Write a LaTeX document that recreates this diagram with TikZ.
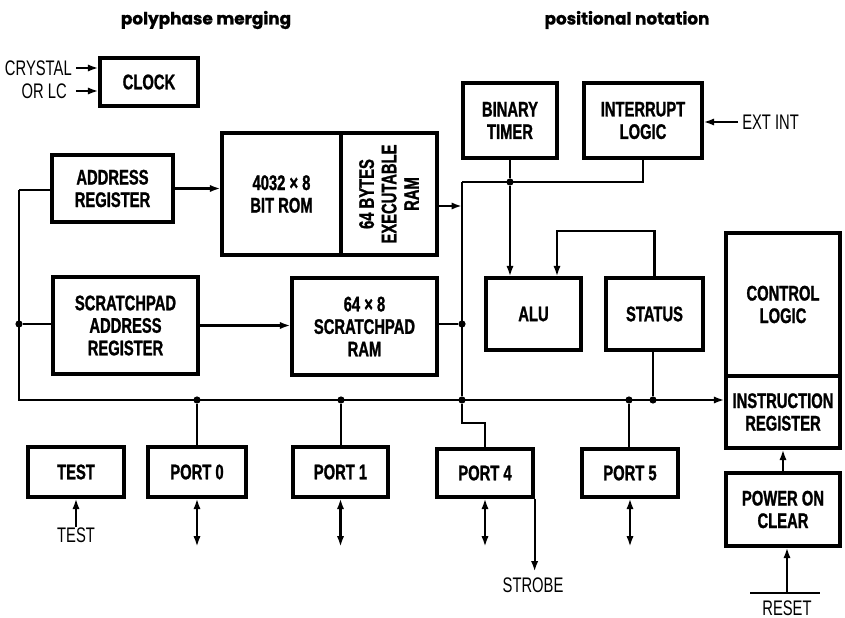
\documentclass[tikz,border=0pt]{standalone}
\usepackage{fontspec}
\setmainfont{Liberation Sans}[FakeStretch=0.7, BoldFeatures={FakeBold=1.2}]
\newfontfamily\headfont{Poppins}[BoldFeatures={FakeBold=1}]
\usetikzlibrary{arrows.meta}

\begin{document}
\begin{tikzpicture}[x=0.25mm, y=-0.25mm,
  blk/.style={draw, line width=2.3pt, inner sep=0pt, align=center,
    font=\bfseries\fontsize{15}{16}\selectfont},
  sz/.style 2 args={minimum width=#1*0.25mm, minimum height=#2*0.25mm},
  wire/.style={line width=1.5pt},
  arr/.style={wire, -{Latex[length=2.6mm,width=1.8mm]}},
  darr/.style={wire, {Latex[length=2.6mm,width=1.8mm]}-{Latex[length=2.6mm,width=1.8mm]}},
  lbl/.style={inner sep=0pt, font=\fontsize{15}{16}\selectfont},
  jdot/.style={circle, fill, inner sep=0pt, minimum size=1.8mm}]
\useasboundingbox (0,0) rectangle (845,618);
% Headings
\node[font=\headfont\bfseries\fontsize{12}{14}\selectfont] (h1) at (206,20) {polyphase merging};
\node[font=\headfont\bfseries\fontsize{12}{14}\selectfont] (h2) at (627,20) {positional notation};
% Clock and its inputs
\node[blk, sz={98}{48}] (clock) at (149,82) {CLOCK};
\node[lbl, anchor=east] (xtal) at (72,68) {CRYSTAL};
\node[lbl, anchor=east] (orlc) at (67,91) {OR LC};
\draw[arr] ([xshift=1mm]xtal.east) -- (xtal -| clock.west);
\draw[arr] ([xshift=2.2mm]orlc.east) -- (orlc -| clock.west);
% Program memory
\node[blk, sz={121}{67}] (addr) at (112.5,188.5) {ADDRESS\\REGISTER};
\node[blk, sz={119}{122}] (rom) at (281.5,194) {4032 × 8\\BIT ROM};
\node[blk, sz={96}{122}] (xram) at (389,194) {};
\node[blk, draw=none, rotate=90] (xramtxt) at (xram) {64 BYTES\\EXECUTABLE\\RAM};
\draw[arr] (addr.east) -- (addr.east -| rom.west);
% Timer and interrupts
\node[blk, sz={94}{75}] (timer) at (510,120.5) {BINARY\\TIMER};
\node[blk, sz={118}{75}] (intr) at (643,120.5) {INTERRUPT\\LOGIC};
\node[lbl, anchor=west] (extint) at (742,122) {EXT INT};
\draw[arr] ([xshift=-1mm]extint.west) -- (extint -| intr.east);
% Scratchpad
\node[blk, sz={145}{97}] (spar) at (125.5,325.5) {SCRATCHPAD\\ADDRESS\\REGISTER};
\node[blk, sz={145}{97}] (spram) at (364.5,326.5) {64 × 8\\SCRATCHPAD\\RAM};
\draw[arr] (spar.east) -- (spar.east -| spram.west);
% ALU and status
\node[blk, sz={95}{72}] (alu) at (533.5,314) {ALU};
\node[blk, sz={97}{72}] (status) at (654.5,314) {STATUS};
% Control side
\node[blk, sz={114}{143}] (ctrl) at (783,304.5) {CONTROL\\LOGIC};
\node[blk, sz={114}{72}] (ir) at (783,412) {INSTRUCTION\\REGISTER};
\node[blk, sz={114}{73}] (poc) at (783,509.5) {POWER ON\\CLEAR};
\draw[arr] (poc) -- (ir);
\coordinate (rl) at (750,593);
\coordinate (rr) at (820,593);
\coordinate (rst) at (787,593);
\draw[wire] (rl) -- (rr);
\draw[arr] (rst) -- (rst |- poc.south);
\node[lbl] (reset) at (787,608) {RESET};
% I/O ports
\node[blk, sz={96}{50}] (test) at (76,472) {TEST};
\node[blk, sz={98}{50}] (port0) at (197,472) {PORT 0};
\node[blk, sz={95}{50}] (port1) at (340.5,472) {PORT 1};
\node[blk, sz={96}{48}] (port4) at (485,473) {PORT 4};
\node[blk, sz={96}{48}] (port5) at (630,473) {PORT 5};
\node[lbl] (testin) at (76,535) {TEST};
\draw[arr] (testin.north) -- (test.south);
\foreach \p in {port0,port1,port4,port5}
  \draw[darr] (\p.south) -- ++(0,48);
\draw[arr] (port4.south east) -- ++(0,73) coordinate (strb);
\node[lbl] (strobe) at (533,585) {STROBE};
% Main bus with junctions
\coordinate (lt) at (19,190);
\coordinate (lb) at (19,400);
\draw[wire] (lt) -- (lt -| addr.west);
\draw[arr] (lt) -- (lb) -- (lb -| ir.west);
\node[jdot] (d1) at (19,324) {};
\draw[wire] (d1) -- (d1 -| spar.west);
\foreach \n/\x in {b0/197, b1/341, b4/462, b5/629, bs/653}
  \node[jdot] (\n) at (\x,400) {};
\draw[wire] (b0) -- (b0 |- port0.north);
\draw[wire] (b1) -- (b1 |- port1.north);
\draw[wire] (b5) -- (b5 |- port5.north);
\draw[wire] (bs |- status.south) -- (bs);
% Internal data bus
\coordinate (top) at (462,182);
\draw[wire] (top) -- (b4) -- ++(0,23) -| (port4);
\draw[wire] (top) -| (intr);
\node[jdot] (tdot) at (510,182) {};
\draw[wire] (timer) -- (tdot);
\draw[arr] (tdot) -- (tdot |- alu.north);
\coordinate (rin) at (462,206);
\draw[arr] (rin -| xram.east) -- (rin);
\node[jdot] (d2) at (462,324) {};
\draw[wire] (d2 -| spram.east) -- (d2);
% Status feedback into ALU
\coordinate (fb) at (557,231);
\draw[arr] (status.north) |- (fb) -- (fb |- alu.north);
\end{tikzpicture}
\end{document}
